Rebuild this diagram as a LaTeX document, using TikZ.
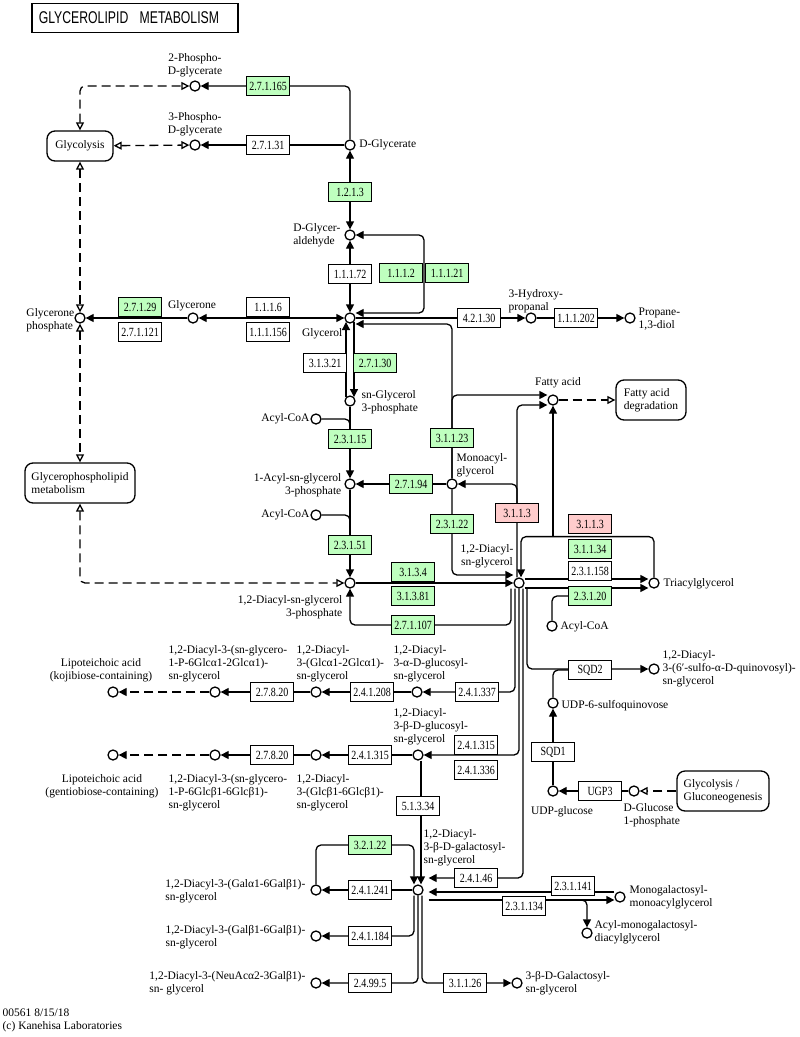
\documentclass[tikz,border=0pt]{standalone}
\usepackage{fontspec}
\setmainfont{Liberation Serif}
\newfontfamily\ecfamily[FakeStretch=0.8]{Liberation Serif}
\newfontfamily\ttlfamily[FakeStretch=0.72]{Liberation Sans}
\usetikzlibrary{arrows.meta,positioning,calc,backgrounds}
\definecolor{kegggreen}{RGB}{191,255,191}
\definecolor{keggpink}{RGB}{255,204,204}
\newcommand{\cpdfont}{\fontsize{11.5}{13}\selectfont}
\newcommand{\ecfont}{\ecfamily\fontsize{12.5}{13}\selectfont}

\begin{document}
\begin{tikzpicture}[
  x=1pt, y=-1pt, line width=1.3pt,
  >={Triangle[length=8pt,width=8pt]},
  ot/.tip={Triangle[open,length=8pt,width=8pt]},
  cpd/.style={circle, draw, fill=white, inner sep=0pt, minimum size=10pt, line width=1.3pt},
  lbl/.style={inner sep=0pt, align=left, font=\cpdfont},
  ec/.style={draw, fill=white, minimum width=43pt, minimum height=19pt, inner sep=0pt, font=\ecfont, line width=1.2pt},
  ecg/.style={ec, fill=kegggreen},
  ecp/.style={ec, fill=keggpink},
  mapbox/.style={draw, rounded corners=8pt, align=left, font=\cpdfont, inner sep=0pt, line width=1.3pt},
  rc/.style={rounded corners=5pt},
  dsh/.style={dash pattern=on 9pt off 5pt}
]
\useasboundingbox (0,0) rectangle (800,1037);

\node[draw, line width=1.6pt, anchor=west, text width=192pt, inner xsep=7pt, minimum height=29pt, align=left,
  font=\ttlfamily\fontsize{17}{17}\selectfont] (title) at (31,18) {GLYCEROLIPID\ \ METABOLISM};

% pathway maps
\node[mapbox, minimum width=66pt, minimum height=30pt] (glycolysis) at (80,146) {Glycolysis};
\node[mapbox, minimum width=110pt, minimum height=40pt] (gpl) at (80,483) {Glycerophospholipid\\metabolism};
\node[mapbox, minimum width=70pt, minimum height=40pt] (fadeg) at (651,400) {Fatty acid\\degradation};
\node[mapbox, minimum width=92pt, minimum height=40pt] (glyneo) at (723,791) {Glycolysis /\\Gluconeogenesis};

% compounds
\node[cpd] (pgA) at (195,86) {};
\node[lbl, align=center] (pgAt) at (195,65) {2-Phospho-\\D-glycerate};
\node[cpd] (pgB) at (195,145) {};
\node[lbl, align=center] (pgBt) at (195,124) {3-Phospho-\\D-glycerate};
\node[cpd] (dgt) at (350,145) {};
\node[lbl, right=3pt of dgt] (dgtt) {D-Glycerate};
\node[cpd] (dgal) at (350,235) {};
\node[lbl, anchor=east] (dgalt) at (341,235) {D-Glycer-\\aldehyde};
\node[cpd] (gol) at (350,318) {};
\node[lbl, anchor=east] (golt) at (343,334) {Glycerol};
\node[cpd] (gone) at (193,318) {};
\node[lbl] (gonet) at (192,306) {Glycerone};
\node[cpd] (gp) at (80,318) {};
\node[lbl, anchor=east] (gpt) at (75,320) {Glycerone\\phosphate};
\node[cpd] (hpal) at (531,318) {};
\node[lbl, anchor=west] (hpalt) at (508,301) {3-Hydroxy-\\propanal};
\node[cpd] (pdiol) at (630,318) {};
\node[lbl, anchor=west] (pdiolt) at (638,319) {Propane-\\1,3-diol};
\node[cpd] (g3p) at (350,401) {};
\node[lbl, anchor=west] (g3pt) at (361,402) {sn-Glycerol\\3-phosphate};
\node[cpd] (acoa1) at (316,419) {};
\node[lbl, anchor=east] (acoa1t) at (310,419) {Acyl-CoA};
\node[cpd] (lpa) at (350,484) {};
\node[lbl, anchor=east, align=right] (lpat) at (342,485) {1-Acyl-sn-glycerol\\3-phosphate};
\node[cpd] (acoa2) at (316,515) {};
\node[lbl, anchor=east] (acoa2t) at (310,515) {Acyl-CoA};
\node[cpd] (pa) at (350,583) {};
\node[lbl, anchor=east, align=right] (pat) at (343,607) {1,2-Diacyl-sn-glycerol\\3-phosphate};
\node[cpd] (mag) at (452,484) {};
\node[lbl, anchor=west] (magt) at (456,465) {Monoacyl-\\glycerol};
\node[cpd] (dag) at (519,583) {};
\node[lbl, align=center] (dagt) at (487,556) {1,2-Diacyl-\\sn-glycerol};
\node[cpd] (fa) at (553,400) {};
\node[lbl] (fat) at (558,383) {Fatty acid};
\node[cpd] (tag) at (654,583) {};
\node[lbl, anchor=west] (tagt) at (663,584) {Triacylglycerol};
\node[cpd] (acoa3) at (552,626) {};
\node[lbl, anchor=west] (acoa3t) at (560,627) {Acyl-CoA};

\node[cpd] (glcA) at (417,692) {};
\node[lbl, anchor=west] (glcAt) at (393,664) {1,2-Diacyl-\\3-α-D-glucosyl-\\sn-glycerol};
\node[cpd] (dglcA) at (316,692) {};
\node[lbl, anchor=west] (dglcAt) at (296,664) {1,2-Diacyl-\\3-(Glcα1-2Glcα1)-\\sn-glycerol};
\node[cpd] (ltaApre) at (215,692) {};
\node[lbl, anchor=west] (ltaAt) at (168,664) {1,2-Diacyl-3-(sn-glycero-\\1-P-6Glcα1-2Glcα1)-\\sn-glycerol};
\node[cpd] (ltaA) at (113,692) {};
\node[lbl, align=center] (ltaAl) at (101,670) {Lipoteichoic acid\\(kojibiose-containing)};

\node[cpd] (glcB) at (418,755) {};
\node[lbl, anchor=west] (glcBt) at (393,727) {1,2-Diacyl-\\3-β-D-glucosyl-\\sn-glycerol};
\node[cpd] (dglcB) at (316,755) {};
\node[lbl, anchor=west] (dglcBt) at (296,793) {1,2-Diacyl-\\3-(Glcβ1-6Glcβ1)-\\sn-glycerol};
\node[cpd] (ltaBpre) at (215,755) {};
\node[lbl, anchor=west] (ltaBt) at (168,793) {1,2-Diacyl-3-(sn-glycero-\\1-P-6Glcβ1-6Glcβ1)-\\sn-glycerol};
\node[cpd] (ltaB) at (113,755) {};
\node[lbl, align=center] (ltaBl) at (102,786) {Lipoteichoic acid\\(gentiobiose-containing)};

\node[cpd] (mgdg) at (418,890) {};
\node[lbl, anchor=west] (mgdgt) at (423,848) {1,2-Diacyl-\\3-β-D-galactosyl-\\sn-glycerol};
\node[cpd] (dgdg) at (316,890) {};
\node[lbl, anchor=east] (dgdgt) at (306,891) {1,2-Diacyl-3-(Galα1-6Galβ1)-\\sn-glycerol};
\node[cpd] (ggdg) at (316,936) {};
\node[lbl, anchor=east] (ggdgt) at (306,937) {1,2-Diacyl-3-(Galβ1-6Galβ1)-\\sn-glycerol};
\node[cpd] (sgdg) at (316,983) {};
\node[lbl, anchor=east] (sgdgt) at (306,983) {1,2-Diacyl-3-(NeuAcα2-3Galβ1)-\\sn- glycerol};
\node[cpd] (mgmg) at (620,897) {};
\node[lbl, anchor=west] (mgmgt) at (629,897) {Monogalactosyl-\\monoacylglycerol};
\node[cpd] (amgdg) at (587,933) {};
\node[lbl, anchor=west] (amgdgt) at (594,932) {Acyl-monogalactosyl-\\diacylglycerol};
\node[cpd] (galgol) at (517,983) {};
\node[lbl, anchor=west] (galgolt) at (525,983) {3-β-D-Galactosyl-\\sn-glycerol};

\node[cpd] (sqdg) at (654,669) {};
\node[lbl, anchor=west] (sqdgt) at (662,669) {1,2-Diacyl-\\3-(6′-sulfo-α-D-quinovosyl)-\\sn-glycerol};
\node[cpd] (udpsq) at (553,703) {};
\node[lbl, anchor=west] (udpsqt) at (561,706) {UDP-6-sulfoquinovose};
\node[cpd] (udpg) at (553,791) {};
\node[lbl] (udpgt) at (562,812) {UDP-glucose};
\node[cpd] (g1p) at (634,791) {};
\node[lbl, anchor=west] (g1pt) at (623,815) {D-Glucose\\1-phosphate};

% enzymes
\node[ecg] (e27165) at (268,86) {2.7.1.165};
\node[ec] (e27131) at (268,145) {2.7.1.31};
\node[ecg] (e1213) at (350,192) {1.2.1.3};
\node[ec] (e11172) at (350,274) {1.1.1.72};
\node[ecg] (e1112) at (401,273) {1.1.1.2};
\node[ecg] (e11121) at (447,273) {1.1.1.21};
\node[ec] (e1116) at (268,307) {1.1.1.6};
\node[ec] (e111156) at (268,332) {1.1.1.156};
\node[ecg] (e27129) at (140,307) {2.7.1.29};
\node[ec] (e271121) at (140,332) {2.7.1.121};
\node[ec] (e42130) at (479,318) {4.2.1.30};
\node[ec] (e111202) at (576,318) {1.1.1.202};
\node[ec] (e31321) at (325,363) {3.1.3.21};
\node[ecg] (e27130) at (375,363) {2.7.1.30};
\node[ecg] (e23115) at (350,439) {2.3.1.15};
\node[ecg] (e23151) at (350,545) {2.3.1.51};
\node[ecg] (e31123) at (452,438) {3.1.1.23};
\node[ecg] (e27194) at (411,484) {2.7.1.94};
\node[ecg] (e23122) at (452,524) {2.3.1.22};
\node[ecp] (e3113a) at (517,513) {3.1.1.3};
\node[ecp] (e3113b) at (590,524) {3.1.1.3};
\node[ecg] (e31134) at (590,549) {3.1.1.34};
\node[ec] (e231158) at (590,571) {2.3.1.158};
\node[ecg] (e23120) at (590,596) {2.3.1.20};
\node[ecg] (e3134) at (413,572) {3.1.3.4};
\node[ecg] (e31381) at (413,596) {3.1.3.81};
\node[ecg] (e271107) at (413,625) {2.7.1.107};
\node[ec] (e241337) at (477,692) {2.4.1.337};
\node[ec] (e241208) at (372,692) {2.4.1.208};
\node[ec] (e2782a) at (272,692) {2.7.8.20};
\node[ec] (e241315a) at (476,745) {2.4.1.315};
\node[ec] (e241336) at (476,770) {2.4.1.336};
\node[ec] (e241315b) at (370,755) {2.4.1.315};
\node[ec] (e2782b) at (272,755) {2.7.8.20};
\node[ec] (e51334) at (418,806) {5.1.3.34};
\node[ecg] (e32122) at (370,845) {3.2.1.22};
\node[ec] (e241241) at (370,890) {2.4.1.241};
\node[ec] (e241184) at (370,936) {2.4.1.184};
\node[ec] (e24995) at (370,983) {2.4.99.5};
\node[ec] (e24146) at (476,878) {2.4.1.46};
\node[ec] (e231141) at (573,886) {2.3.1.141};
\node[ec] (e231134) at (524,906) {2.3.1.134};
\node[ec] (e31126) at (465,983) {3.1.1.26};
\node[ec] (sqd2) at (590,670) {SQD2};
\node[ec] (sqd1) at (553,752) {SQD1};
\node[ec] (ugp3) at (600,791) {UGP3};

\node[lbl, anchor=west] (foot) at (2,1020) {00561 8/15/18\\(c) Kanehisa Laboratories};

\coordinate (tagrow) at ([yshift=-2.5pt]e3113b.south);
\coordinate (dagup) at ([xshift=-2pt]dag.north);
\coordinate (dagin) at ([xshift=2pt]dag.north);

\begin{pgfonlayer}{background}
\begin{scope}[line width=1.3pt]
\draw[rc,->] (dgt) |- (pgA);
\draw[->] (dgt) -- (pgB);
\draw[dsh,rc,ot-ot] (glycolysis) |- (pgA);
\draw[dsh,ot-ot] (glycolysis) -- (pgB);
\draw[<->] (dgal) -- (dgt);
\draw[<->] (dgal) -- (gol);
\draw[rc,<->] (dgal) -| ($(e1112.east)!0.5!(e11121.west)$) |- ([yshift=5pt]gol.east);
\draw[->] (gol) -- (hpal);
\draw[->] (hpal) -- (pdiol);
\draw[<->] (gone) -- (gol);
\draw[->] (gone) -- (gp);
\draw[dsh,ot-ot] (glycolysis) -- (gp);
\draw[dsh,ot-ot] (gp) -- (gpl);
\draw[dsh,rc,ot-ot] (gpl) |- (pa);
\draw[->] (g3p.north west) -- (gol.south west);
\draw[->] (gol.south east) -- (g3p.north east);
\draw[->] (g3p) -- (lpa);
\draw[rc] (acoa1) -| (e23115.north);
\draw[->] (lpa) -- (pa);
\draw[rc] (acoa2) -| (e23151.north);
\draw[->] (mag) -- (lpa);
\draw[rc,->] (mag) |- ([yshift=-6pt]gol.east);
\draw[rc,->] (mag) |- ([yshift=5pt]fa.west);
\draw[rc,->] (dagup) |- ([yshift=-5pt]fa.west);
\draw[rc,->] (e3113a.north -| dagup) |- (mag);
\draw[rc,->] (mag) |- ([yshift=8pt]dag.west);
\draw[->] (pa) -- (dag);
\draw[rc,->] ([xshift=-8pt]dag.south) |- (e271107.center) -| (pa);
\draw[->] ($(dag.east)+(0,-4)$) -- ($(tag.west)+(0,-4)$);
\draw[->] ($(dag.east)+(0,5)$) -- ($(tag.west)+(0,5)$);
\draw[rc] (acoa3) |- (e23120.west);
\draw[rc,->] (tag) |- (tagrow -| dagin) -- (dagin);
\draw[->] (fa |- tagrow) -- (fa);
\draw[dsh,-ot] (fa) -- (fadeg);
\draw[rc,->] ([xshift=-4pt]dag.south) |- (glcA);
\draw[rc,->] (dag.south) |- (glcB);
\draw[rc,->] ([xshift=4pt]dag.south) |- ([xshift=5pt,yshift=12pt]mgdg.east);
\draw[rc,->] ([xshift=8pt]dag.south) |- (sqdg);
\draw[rc] (udpsq) |- (sqd2.west);
\draw[->] (udpg) -- (udpsq);
\draw[->] (g1p) -- (udpg);
\draw[dsh,-ot] (glyneo) -- (g1p);
\draw[->] (glcA) -- (dglcA);
\draw[->] (dglcA) -- (ltaApre);
\draw[dsh,->] (ltaApre) -- (ltaA);
\draw[->] (glcB) -- (dglcB);
\draw[->] (dglcB) -- (ltaBpre);
\draw[dsh,->] (ltaBpre) -- (ltaB);
\draw[->] ([xshift=3pt]glcB.south) -- ([xshift=3pt]mgdg.north);
\draw[rc,->] (dgdg) |- (e32122.center) -| ([xshift=-4pt]mgdg.north);
\draw[->] (mgdg) -- (dgdg);
\draw[rc,->] ([xshift=-4pt]mgdg.south) |- (ggdg);
\draw[rc,->] (mgdg.south) |- (sgdg);
\draw[rc,->] ([xshift=4pt]mgdg.south) |- (galgol);
\draw[->] ($(mgmg.west)+(0,-5)$) -- ($(mgdg.east |- mgmg.west)+(5,-5)$);
\draw[->] ($(mgdg.east |- mgmg.west)+(5,3)$) -- ($(mgmg.west)+(0,3)$);
\draw[rc,->] ($(amgdg |- mgmg.west)+(-8,3)$) -| (amgdg);
\end{scope}
\end{pgfonlayer}
\end{tikzpicture}
\end{document}
